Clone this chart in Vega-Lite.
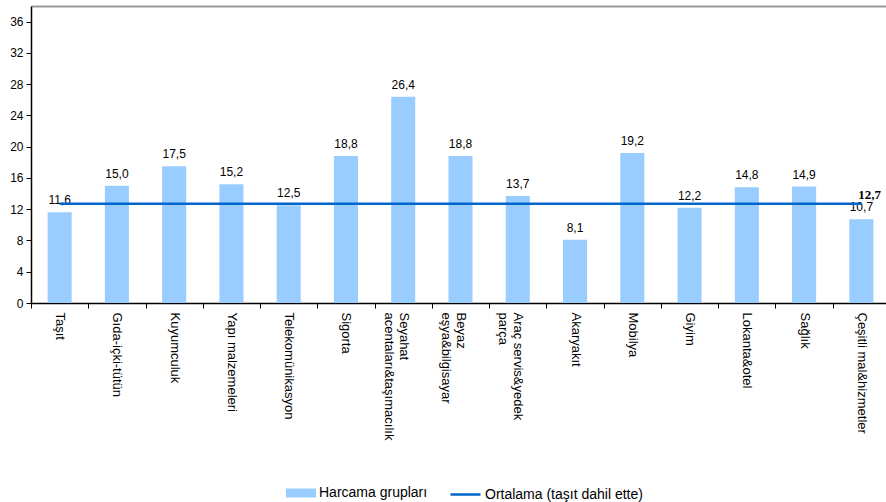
{
  "$schema": "https://vega.github.io/schema/vega-lite/v6.json",
  "width": 859,
  "height": 297,
  "autosize": "none",
  "padding": {"left": 31, "top": 6, "right": 0, "bottom": 199},
  "background": "white",
  "config": {
    "view": {"stroke": null},
    "font": "Liberation Sans",
    "locale": {"number": {"decimal": ",", "thousands": ".", "grouping": [3], "currency": ["", " TL"]}}
  },
  "resolve": {"axis": {"x": "independent"}},
  "datasets": {
    "groups": [
      {"grup": "Taşıt", "deger": 11.6},
      {"grup": "Gıda-içki-tütün", "deger": 15.0},
      {"grup": "Kuyumculuk", "deger": 17.5},
      {"grup": "Yapı malzemeleri", "deger": 15.2},
      {"grup": "Telekomünikasyon", "deger": 12.5},
      {"grup": "Sigorta", "deger": 18.8},
      {"grup": "Seyahat acentaları&taşımacılık", "deger": 26.4},
      {"grup": "Beyaz eşya&bilgisayar", "deger": 18.8},
      {"grup": "Araç servis&yedek parça", "deger": 13.7},
      {"grup": "Akaryakıt", "deger": 8.1},
      {"grup": "Mobilya", "deger": 19.2},
      {"grup": "Giyim", "deger": 12.2},
      {"grup": "Lokanta&otel", "deger": 14.8},
      {"grup": "Sağlık", "deger": 14.9},
      {"grup": "Çeşitli mal&hizmetler", "deger": 10.7}
    ],
    "avg": [
      {"bas": "Taşıt", "son": "Çeşitli mal&hizmetler", "ortalama": 12.7}
    ]
  },
  "layer": [
    {
      "data": {"name": "groups"},
      "mark": {"type": "bar", "width": {"band": 0.42}},
      "encoding": {
        "x": {
          "field": "grup", "type": "nominal", "sort": null,
          "scale": {"paddingInner": 0, "paddingOuter": 0},
          "axis": {
            "title": null,
            "orient": "bottom",
            "labelAngle": 90,
            "labelAlign": "left",
            "labelBaseline": "middle",
            "labelFontSize": 13,
            "labelColor": "#000",
            "labelPadding": 4,
            "labelLineHeight": 15,
            "labelExpr": "datum.label == 'Seyahat acentaları&taşımacılık' ? ['Seyahat', 'acentaları&taşımacılık'] : datum.label == 'Beyaz eşya&bilgisayar' ? ['Beyaz', 'eşya&bilgisayar'] : datum.label == 'Araç servis&yedek parça' ? ['Araç servis&yedek', 'parça'] : datum.label",
            "tickBand": "extent",
            "tickSize": 5,
            "tickColor": "#000",
            "domainColor": "#000",
            "domainWidth": 1.5,
            "labelOverlap": false
          }
        },
        "y": {
          "field": "deger", "type": "quantitative",
          "scale": {"domain": [0, 38], "nice": false},
          "axis": {
            "title": null,
            "values": [0, 4, 8, 12, 16, 20, 24, 28, 32, 36],
            "tickCount": 10,
            "grid": false,
            "labelFontSize": 12,
            "labelColor": "#000",
            "labelOverlap": false,
            "tickColor": "#000",
            "tickSize": 5,
            "domainColor": "#000",
            "domainWidth": 1.5,
            "labelPadding": 3
          }
        },
        "fill": {
          "datum": "Harcama grupları",
          "scale": {"range": ["#99CCFF"]},
          "legend": {
            "title": null,
            "orient": "none",
            "legendX": 255,
            "legendY": 472,
            "symbolType": "M-1,-0.3H1V0.3H-1Z",
            "symbolSize": 900,
            "symbolStrokeWidth": 0,
            "labelFontSize": 14,
            "labelColor": "#000",
            "labelOffset": 3
          }
        }
      }
    },
    {
      "data": {"name": "groups"},
      "mark": {"type": "text", "baseline": "alphabetic", "dy": -8, "fontSize": 12, "color": "#000"},
      "encoding": {
        "x": {"field": "grup", "type": "nominal", "sort": null, "axis": null},
        "y": {
          "field": "deger", "type": "quantitative",
          "axis": {
            "title": null,
            "values": [0, 4, 8, 12, 16, 20, 24, 28, 32, 36],
            "tickCount": 10,
            "grid": false,
            "labelFontSize": 12,
            "labelColor": "#000",
            "labelOverlap": false,
            "tickColor": "#000",
            "tickSize": 5,
            "domainColor": "#000",
            "domainWidth": 1.5,
            "labelPadding": 3
          }
        },
        "text": {"field": "deger", "type": "quantitative", "format": ".1f"}
      }
    },
    {
      "data": {"name": "avg"},
      "mark": {"type": "rule", "strokeWidth": 2.5},
      "encoding": {
        "x": {
          "field": "bas", "type": "nominal", "sort": null,
          "axis": {"orient": "top", "title": null, "labels": false, "ticks": false, "domainColor": "#999999", "domainWidth": 2}
        },
        "x2": {"field": "son"},
        "y": {
          "field": "ortalama", "type": "quantitative",
          "axis": {
            "title": null,
            "values": [0, 4, 8, 12, 16, 20, 24, 28, 32, 36],
            "tickCount": 10,
            "grid": false,
            "labelFontSize": 12,
            "labelColor": "#000",
            "labelOverlap": false,
            "tickColor": "#000",
            "tickSize": 5,
            "domainColor": "#000",
            "domainWidth": 1.5,
            "labelPadding": 3
          }
        },
        "stroke": {
          "datum": "Ortalama (taşıt dahil ette)",
          "scale": {"range": ["#0066CC"]},
          "legend": {
            "title": null,
            "orient": "none",
            "legendX": 418,
            "legendY": 472,
            "symbolType": "stroke",
            "symbolSize": 900,
            "symbolStrokeWidth": 2.5,
            "labelFontSize": 14,
            "labelColor": "#000",
            "labelOffset": 3
          }
        }
      }
    },
    {
      "data": {"name": "avg"},
      "mark": {"type": "text", "align": "left", "baseline": "alphabetic", "dx": -3, "dy": -5, "font": "Liberation Serif", "fontWeight": "bold", "fontSize": 13, "color": "#000"},
      "encoding": {
        "x": {"field": "son", "type": "nominal", "sort": null, "axis": null},
        "y": {
          "field": "ortalama", "type": "quantitative",
          "axis": {
            "title": null,
            "values": [0, 4, 8, 12, 16, 20, 24, 28, 32, 36],
            "tickCount": 10,
            "grid": false,
            "labelFontSize": 12,
            "labelColor": "#000",
            "labelOverlap": false,
            "tickColor": "#000",
            "tickSize": 5,
            "domainColor": "#000",
            "domainWidth": 1.5,
            "labelPadding": 3
          }
        },
        "text": {"field": "ortalama", "type": "quantitative", "format": ".1f"}
      }
    }
  ]
}
